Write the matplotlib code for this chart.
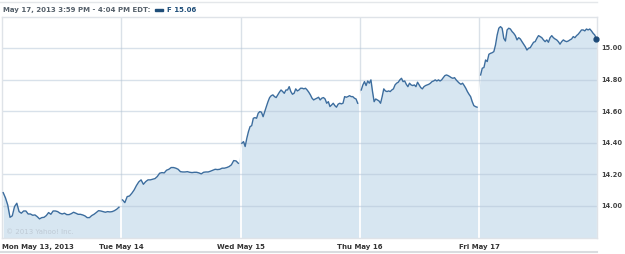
import matplotlib
matplotlib.use("Agg")
import matplotlib.pyplot as plt
import numpy as np
from matplotlib.lines import Line2D
from matplotlib.patches import Rectangle

# Ford (F) intraday prices, May 13-17 2013, one list per trading day
mon = [14.084, 14.051, 14.006, 13.928, 13.937, 13.996, 14.017, 13.964, 13.954, 13.968,
       13.968, 13.949, 13.949, 13.941, 13.943, 13.932, 13.918, 13.926, 13.928, 13.939,
       13.958, 13.947, 13.968, 13.968, 13.964, 13.954, 13.949, 13.954, 13.945, 13.945,
       13.951, 13.960, 13.954, 13.947, 13.947, 13.943, 13.937, 13.926, 13.926, 13.939,
       13.947, 13.958, 13.970, 13.968, 13.964, 13.960, 13.964, 13.962, 13.964, 13.970,
       13.979, 13.992]
tue = [14.038, 14.021, 14.059, 14.063, 14.080, 14.101, 14.129, 14.152, 14.165, 14.137,
       14.154, 14.165, 14.165, 14.169, 14.173, 14.186, 14.207, 14.211, 14.209, 14.226,
       14.232, 14.243, 14.243, 14.239, 14.232, 14.217, 14.215, 14.215, 14.217, 14.213,
       14.211, 14.213, 14.213, 14.209, 14.203, 14.213, 14.215, 14.215, 14.220, 14.226,
       14.232, 14.230, 14.232, 14.239, 14.239, 14.243, 14.249, 14.260, 14.287, 14.285,
       14.270]
wed = [14.397, 14.407, 14.376, 14.428, 14.470, 14.502, 14.508, 14.555, 14.559, 14.555,
       14.587, 14.597, 14.593, 14.565, 14.597, 14.629, 14.660, 14.686, 14.698, 14.703,
       14.692, 14.686, 14.703, 14.720, 14.734, 14.724, 14.713, 14.734, 14.734, 14.755,
       14.724, 14.707, 14.713, 14.741, 14.728, 14.734, 14.745, 14.745, 14.741, 14.745,
       14.734, 14.720, 14.703, 14.682, 14.671, 14.677, 14.682, 14.688, 14.671, 14.682,
       14.686, 14.677, 14.650, 14.660, 14.629, 14.639, 14.650, 14.635, 14.625, 14.644,
       14.650, 14.646, 14.650, 14.692, 14.688, 14.692, 14.698, 14.692, 14.692, 14.682,
       14.677, 14.650]
thu = [14.734, 14.766, 14.787, 14.762, 14.791, 14.777, 14.798, 14.724, 14.660, 14.677,
       14.671, 14.665, 14.650, 14.692, 14.741, 14.728, 14.724, 14.728, 14.724, 14.734,
       14.741, 14.766, 14.777, 14.783, 14.798, 14.808, 14.787, 14.791, 14.770, 14.755,
       14.777, 14.766, 14.762, 14.766, 14.755, 14.783, 14.766, 14.749, 14.741, 14.755,
       14.762, 14.766, 14.770, 14.777, 14.787, 14.791, 14.798, 14.791, 14.798, 14.791,
       14.798, 14.812, 14.825, 14.829, 14.825, 14.819, 14.812, 14.808, 14.812, 14.798,
       14.787, 14.777, 14.770, 14.777, 14.762, 14.745, 14.724, 14.707, 14.692, 14.660,
       14.635, 14.629, 14.625]
fri = [14.829, 14.872, 14.876, 14.924, 14.914, 14.960, 14.966, 14.970, 14.977, 15.019,
       15.082, 15.125, 15.135, 15.125, 15.061, 15.044, 15.114, 15.125, 15.120, 15.104,
       15.093, 15.078, 15.051, 15.065, 15.057, 15.040, 15.024, 15.008, 14.987, 14.998,
       15.002, 15.019, 15.036, 15.040, 15.061, 15.078, 15.072, 15.065, 15.051, 15.040,
       15.051, 15.036, 15.065, 15.078, 15.065, 15.057, 15.051, 15.040, 15.024, 15.040,
       15.051, 15.044, 15.040, 15.044, 15.051, 15.057, 15.072, 15.065, 15.078, 15.087,
       15.100, 15.114, 15.114, 15.108, 15.120, 15.114, 15.120, 15.108, 15.093, 15.082,
       15.057]

days = [mon, tue, wed, thu, fri]
day_labels = ["Mon May 13, 2013", "Tue May 14", "Wed May 15", "Thu May 16", "Fri May 17"]
price_ticks = [14.00, 14.20, 14.40, 14.60, 14.80, 15.00]
last_price = 15.06

W, H = 625, 254
fig = plt.figure(figsize=(W / 100, H / 100), dpi=100)
ax = fig.add_axes([2 / W, (H - 238) / H, 595 / W, 221 / H])

ymin, ymax = 13.797, 15.196
line_col = "#3c6d9e"
fill_col = "#d7e6f1"

xs_all, ps_all = [], []
for d, p in enumerate(days):
    xs = d + np.linspace(0.01, 0.98, len(p))
    ax.plot(xs, p, color=line_col, lw=1.0, zorder=3)
    xs_all.extend(xs)
    ps_all.extend(p)

poly = ax.fill_between(xs_all, ps_all, ymin, color=fill_col, lw=0, zorder=1)
clip = poly.get_paths()[0]

for d in range(1, 5):
    ax.axvline(d, color="#dae1e8", lw=1.0, zorder=0.5)
    wl = ax.axvline(d, color="white", lw=1.3, zorder=1.5)
    wl.set_clip_path(clip, ax.transData)

for v in price_ticks:
    ax.axhline(v, color="#b2c4d6", alpha=0.5, lw=1.0, zorder=1.6)

ax.plot([xs_all[-1]], [ps_all[-1]], "o", color="#1d4a78", ms=3.5, zorder=4, clip_on=False)

ax.set_xlim(0, 4.985)
ax.set_ylim(ymin, ymax)
ax.set_xticks(range(5))
ax.set_xticklabels(day_labels)
ax.tick_params(axis="x", length=0, pad=4, labelsize=5, labelcolor="#333333")
for lab in ax.get_xticklabels():
    lab.set_fontweight("bold")
ax.get_xticklabels()[0].set_ha("left")

ax.yaxis.tick_right()
ax.set_yticks(price_ticks)
ax.set_yticklabels(["%.2f" % v for v in price_ticks])
ax.tick_params(axis="y", length=0, pad=3, labelsize=4.8, labelcolor="#444444")
for lab in ax.get_yticklabels():
    lab.set_fontweight("bold")

for s in ax.spines.values():
    s.set_color("#dfe3e8")
    s.set_linewidth(1.0)

ax.text(0.006, 0.02, "\u00a9 2013 Yahoo! Inc.", transform=ax.transAxes,
        fontsize=5, color="#bfcad5", zorder=2)

# header
fig.text(3 / W, 1 - 10 / H, "May 17, 2013 3:59 PM - 4:04 PM EDT:", fontsize=5,
         color="#55606a", fontweight="bold", va="center", ha="left")
fig.add_artist(Rectangle((155 / W, 1 - 11.3 / H), 8 / W, 2.6 / H,
                         transform=fig.transFigure, color="#1f4e79"))
fig.text(167 / W, 1 - 10 / H, "F %.2f" % last_price, fontsize=5,
         color="#1f4e79", fontweight="bold", va="center", ha="left")
fig.add_artist(Line2D([0, 597 / W], [1 - 1.5 / H, 1 - 1.5 / H],
                      transform=fig.transFigure, color="#e4e7ea", lw=1))
fig.add_artist(Line2D([0, 597 / W], [2.5 / H, 2.5 / H],
                      transform=fig.transFigure, color="#d9dcdf", lw=1.5))

fig.savefig("out.png", dpi=100)
